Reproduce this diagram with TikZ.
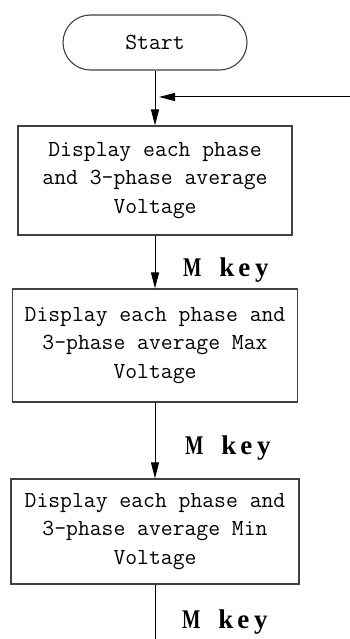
\documentclass[tikz,border=0pt]{standalone}
\usepackage{fontspec}
\usepackage{graphicx}
\newfontfamily\keyfont{Liberation Serif}
\usetikzlibrary{arrows.meta}
\newcommand\keycell[1]{\makebox[17.5pt][c]{#1}}
\newcommand\mkeytext{\makebox[17.5pt][l]{\scalebox{0.72}[1]{M}}\keycell{}\keycell{k}\keycell{e}\keycell{y}}
\begin{document}
\begin{tikzpicture}[x=1pt,y=-1pt,
  box/.style={draw=black!75, line width=1.1pt, fill=white, inner sep=0pt, align=center,
    font={\fontsize{23}{28.5}\selectfont\ttfamily}},
  term/.style={box, rounded corners=27.5pt},
  flow/.style={draw=black, line width=1pt, -{Triangle[length=16pt,width=8pt]}},
  plain/.style={draw=black, line width=1pt},
  keylbl/.style={anchor=base west, inner sep=0pt, font={\keyfont\bfseries\fontsize{27}{30}\selectfont}}]
\useasboundingbox (0,0) rectangle (350,639);
\node[term, minimum width=184pt, minimum height=55pt] (start) at (155,42.5) {Start};
\node[box, minimum width=274pt, minimum height=109pt] (b1) at (155,180.5)
  {Display each phase\\and 3-phase average\\Voltage};
\node[box, minimum width=285pt, minimum height=113pt] (b2) at (155,345.5)
  {Display each phase and\\3-phase average Max\\Voltage};
\node[box, minimum width=288pt, minimum height=105pt] (b3) at (155,531.5)
  {Display each phase and\\3-phase average Min\\Voltage};
\coordinate (loopin) at (350,97);
\coordinate (join) at (159,97);
\coordinate (tail) at (155,639);
\draw[flow] (start.south) -- (b1.north);
\draw[flow] (loopin) -- (join);
\draw[flow] (b1.south) -- (b2.north);
\draw[flow] (b2.south) -- (b3.north);
\draw[plain] (b3.south) -- (tail);
\node[keylbl] (k1) at (183,276) {\mkeytext};
\node[keylbl] (k2) at (185,454) {\mkeytext};
\node[keylbl] (k3) at (182,628) {\mkeytext};
\end{tikzpicture}
\end{document}
